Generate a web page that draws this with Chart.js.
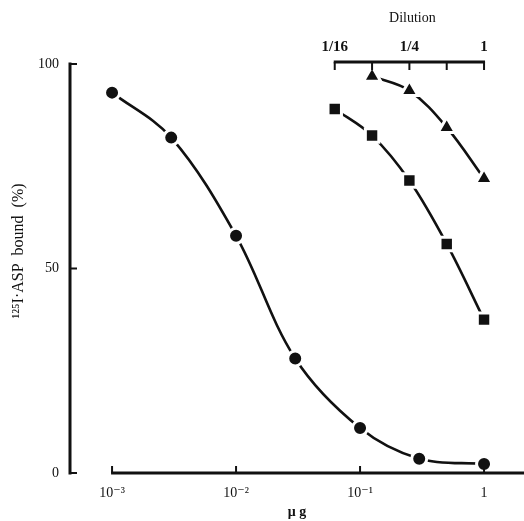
<!DOCTYPE html>
<html>
<head>
<meta charset="utf-8">
<script src="https://cdn.jsdelivr.net/npm/chart.js@4/dist/chart.umd.min.js"></script>
<style>
  html, body { margin: 0; padding: 0; background: #fff; }
  #wrap { width: 524px; height: 521px; }
</style>
</head>
<body>
<div id="wrap"><canvas id="chart" width="524" height="521"></canvas></div>
<script>
// standard curve (µg)
const doseUg = [0.001, 0.003, 0.01, 0.03, 0.1, 0.3, 1];
const standardBound = [93, 82, 58, 28, 11, 3.5, 2.2];

// sample dilutions
const squareDilution = [1 / 16, 1 / 8, 1 / 4, 1 / 2, 1];
const squareBound = [89, 82.5, 71.5, 56, 37.5];
const triangleDilution = [1 / 8, 1 / 4, 1 / 2, 1];
const triangleBound = [97, 93.5, 84.5, 72];

// tick labels
const ugTicks = [0.001, 0.01, 0.1, 1];
const ugLabels = ["10\u207B\u00B3", "10\u207B\u00B2", "10\u207B\u00B9", "1"];
const dilutionTicks = [1 / 16, 1 / 8, 1 / 4, 1 / 2, 1];
const dilutionLabels = ["1/16", "", "1/4", "", "1"];
const boundTicks = [0, 50, 100];

const xMin = 4.58e-4;
const xMax = 2.1;
const ink = "#111";
const serif = "'Liberation Serif', 'DejaVu Serif', serif";

function toPoints(xs, ys) {
    return xs.map((x, i) => ({ x: x, y: ys[i] }));
}

function noPad(s) {
    s.paddingLeft = 0;
    s.paddingRight = 0;
    s.paddingTop = 0;
    s.paddingBottom = 0;
}

const axesPlugin = {
    id: "axesPlugin",
    afterDraw(chart) {
        const ctx = chart.ctx;
        const x = chart.scales.x;
        const x2 = chart.scales.x2;
        const y = chart.scales.y;
        const area = chart.chartArea;
        ctx.save();
        ctx.strokeStyle = ink;
        ctx.lineWidth = 3;
        ctx.lineCap = "butt";

        // left axis
        const yAxisX = area.left;
        ctx.beginPath();
        ctx.moveTo(yAxisX, y.getPixelForValue(100) - 1.5);
        ctx.lineTo(yAxisX, y.getPixelForValue(0) + 1.5);
        ctx.stroke();
        ctx.lineWidth = 2;
        boundTicks.forEach(v => {
            const py = y.getPixelForValue(v);
            ctx.beginPath();
            ctx.moveTo(yAxisX, py);
            ctx.lineTo(yAxisX + 7, py);
            ctx.stroke();
        });

        // bottom axis
        const bottomY = y.getPixelForValue(0);
        ctx.lineWidth = 3;
        ctx.beginPath();
        ctx.moveTo(x.getPixelForValue(ugTicks[0]) - 1, bottomY);
        ctx.lineTo(area.right, bottomY);
        ctx.stroke();
        ctx.lineWidth = 2;
        ugTicks.forEach(v => {
            const px = x.getPixelForValue(v);
            ctx.beginPath();
            ctx.moveTo(px, bottomY);
            ctx.lineTo(px, bottomY - 7);
            ctx.stroke();
        });

        // top dilution axis
        const topY = area.top - 2;
        ctx.lineWidth = 3;
        ctx.beginPath();
        ctx.moveTo(x2.getPixelForValue(dilutionTicks[0]) - 1, topY);
        ctx.lineTo(x2.getPixelForValue(1) + 1, topY);
        ctx.stroke();
        ctx.lineWidth = 2;
        dilutionTicks.forEach(v => {
            const px = x2.getPixelForValue(v);
            ctx.beginPath();
            ctx.moveTo(px, topY);
            ctx.lineTo(px, topY + 8);
            ctx.stroke();
        });

        // Dilution title
        ctx.fillStyle = ink;
        ctx.font = "14px " + serif;
        ctx.textAlign = "center";
        ctx.textBaseline = "middle";
        const mid = (x2.getPixelForValue(dilutionTicks[0]) + x2.getPixelForValue(1)) / 2;
        ctx.fillText("Dilution", mid + 3, 18);

        // y title
        ctx.save();
        ctx.translate(19, 251);
        ctx.rotate(-Math.PI / 2);
        ctx.font = "16px " + serif;
        ctx.fillText("\u00B9\u00B2\u2075I\u00B7ASP  bound  (%)", 0, 0);
        ctx.restore();
        ctx.restore();
    }
};

const markerStyle = {
    borderColor: ink,
    borderWidth: 2.6,
    pointBackgroundColor: ink,
    pointBorderColor: "#fff",
    pointBorderWidth: 3,
    fill: false,
    showLine: true,
    tension: 0.35
};

new Chart(document.getElementById("chart"), {
    type: "scatter",
    data: {
        datasets: [
            Object.assign({}, markerStyle, {
                label: "standard",
                data: toPoints(doseUg, standardBound),
                xAxisID: "x",
                pointStyle: "circle",
                pointRadius: 7.5
            }),
            Object.assign({}, markerStyle, {
                label: "sample A",
                data: toPoints(squareDilution, squareBound),
                xAxisID: "x2",
                pointStyle: "rect",
                pointRadius: 9.5
            }),
            Object.assign({}, markerStyle, {
                label: "sample B",
                data: toPoints(triangleDilution, triangleBound),
                xAxisID: "x2",
                pointStyle: "triangle",
                pointRadius: 10
            })
        ]
    },
    options: {
        responsive: false,
        animation: false,
        clip: false,
        layout: { padding: 0, autoPadding: false },
        plugins: {
            legend: { display: false },
            tooltip: { enabled: false }
        },
        scales: {
            x: {
                type: "logarithmic",
                position: "bottom",
                min: xMin,
                max: xMax,
                grid: { display: false, drawTicks: false },
                border: { display: false },
                afterBuildTicks: s => { s.ticks = ugTicks.map(v => ({ value: v })); },
                afterFit: s => { s.height = 48; noPad(s); },
                ticks: {
                    color: ink,
                    font: { family: serif, size: 14 },
                    padding: 12,
                    maxRotation: 0,
                    autoSkip: false,
                    callback: (v) => ugLabels[ugTicks.findIndex(t => Math.abs(t - v) < t * 1e-6)]
                },
                title: {
                    display: true,
                    text: "\u03BC g",
                    color: ink,
                    font: { family: serif, size: 14, weight: "bold" },
                    padding: { top: 0, bottom: 0 }
                }
            },
            x2: {
                type: "logarithmic",
                position: "top",
                min: xMin,
                max: xMax,
                grid: { display: false, drawTicks: false },
                border: { display: false },
                afterBuildTicks: s => { s.ticks = dilutionTicks.map(v => ({ value: v })); },
                afterFit: s => { s.height = 64; noPad(s); },
                ticks: {
                    color: ink,
                    font: { family: serif, size: 15, weight: "bold" },
                    padding: 8,
                    maxRotation: 0,
                    autoSkip: false,
                    callback: (v) => dilutionLabels[dilutionTicks.findIndex(t => Math.abs(t - v) < t * 1e-6)]
                }
            },
            y: {
                type: "linear",
                min: 0,
                max: 100,
                grid: { display: false, drawTicks: false },
                border: { display: false },
                afterBuildTicks: s => { s.ticks = boundTicks.map(v => ({ value: v })); },
                afterFit: s => { s.width = 70; noPad(s); },
                ticks: {
                    color: ink,
                    font: { family: serif, size: 14 },
                    padding: 11
                }
            }
        }
    },
    plugins: [axesPlugin]
});
</script>
</body>
</html>
